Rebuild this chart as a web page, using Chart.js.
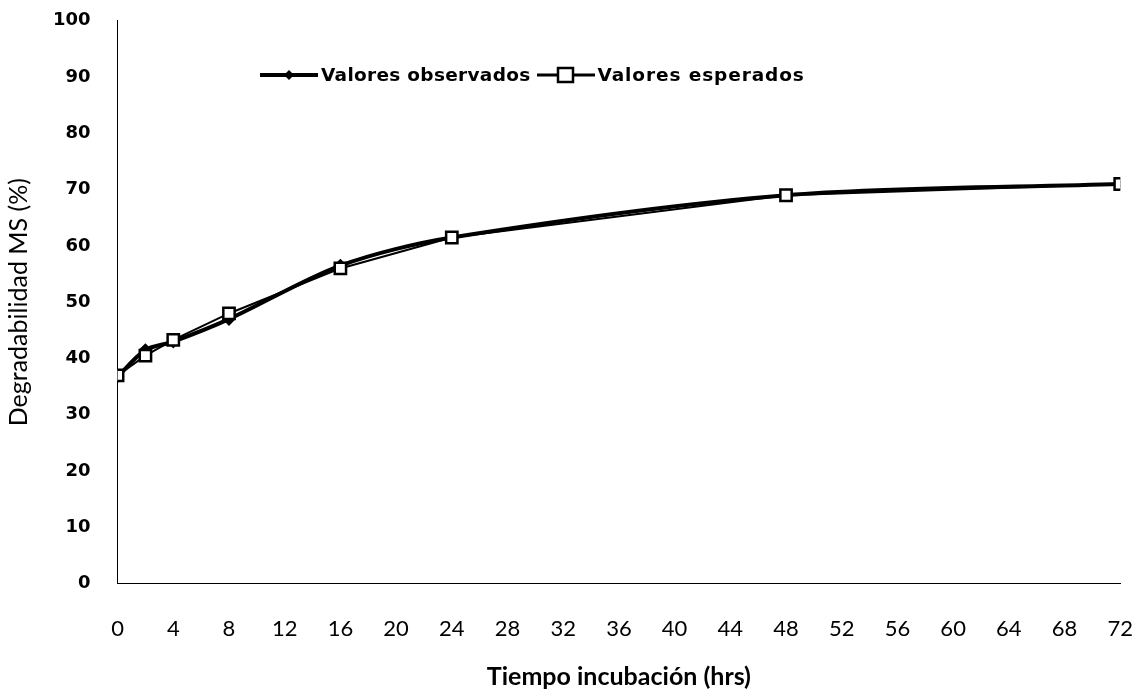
<!DOCTYPE html>
<html>
<head>
<meta charset="utf-8">
<script src="https://cdn.jsdelivr.net/npm/chart.js@4"></script>
<style>
  html, body { margin: 0; padding: 0; background: #fff; overflow: hidden; }
  .wrap { position: relative; width: 1140px; height: 690px; overflow: hidden; }
  #chart { position: absolute; left: 0; top: -9px; }
  .legend {
    position: absolute; left: 258px; top: 64px;
    font-family: 'DejaVu Sans', sans-serif; font-weight: bold; font-size: 18.5px;
    color: #000; display: flex; align-items: center; white-space: nowrap;
    letter-spacing: 0.3px;
  }
  .legend svg { margin-right: 1px; }
  .legend span { margin-right: 4px; }
  .legend span.esp { letter-spacing: 0.9px; }
</style>
</head>
<body>
<div class="wrap">
  <canvas id="chart" width="1157" height="701"></canvas>
  <div class="legend">
    <svg width="62" height="16"><line x1="2" y1="8" x2="60" y2="8" stroke="#000" stroke-width="4"/><path d="M31 3 L36 8 L31 13 L26 8 Z" fill="#000"/></svg>
    <span>Valores observados</span>
    <svg width="62" height="18"><line x1="2" y1="9" x2="60" y2="9" stroke="#000" stroke-width="3"/><rect x="23" y="2" width="15" height="14" fill="#fff" stroke="#000" stroke-width="2.5"/></svg>
    <span class="esp">Valores esperados</span>
  </div>
</div>
<script>
// Tiempo de incubación (hrs)
const hours = [0, 2, 4, 8, 16, 24, 48, 72];
const observados = [36.8, 41.5, 43, 47, 56.5, 61.5, 69, 71];
const esperados = [37, 40.5, 43.3, 48, 56, 61.5, 69, 71];

const toPoints = (vals) => hours.map((h, i) => ({ x: h, y: vals[i] }));

const ctx = document.getElementById('chart').getContext('2d');
new Chart(ctx, {
  type: 'line',
  data: {
    datasets: [
      {
        label: 'Valores observados',
        data: toPoints(observados),
        borderColor: '#000',
        backgroundColor: '#000',
        borderWidth: 4,
        pointStyle: 'rectRot',
        pointRadius: 4,
        tension: 0.3,
        order: 1
      },
      {
        label: 'Valores esperados',
        data: toPoints(esperados),
        borderColor: '#000',
        backgroundColor: '#fff',
        borderWidth: 2,
        pointStyle: 'rect',
        pointRadius: 8,
        pointBorderWidth: 2.5,
        tension: 0,
        order: 0
      }
    ]
  },
  options: {
    responsive: false,
    animation: false,
    layout: { padding: { top: 0, right: 0, bottom: 0, left: 4 } },
    scales: {
      x: {
        type: 'linear',
        min: 0,
        max: 72,
        grid: { display: false },
        border: { display: true, color: '#000', width: 1 },
        ticks: {
          stepSize: 4,
          color: '#000',
          padding: 24,
          font: { family: 'Lato', size: 22 }
        },
        title: {
          display: true,
          text: 'Tiempo incubación (hrs)',
          color: '#000',
          padding: { top: -4, bottom: 0 },
          font: { family: 'Lato', size: 25, weight: 'bold' }
        }
      },
      y: {
        min: 0,
        max: 100,
        grid: { display: false },
        border: { display: true, color: '#000', width: 1 },
        ticks: {
          stepSize: 10,
          color: '#000',
          padding: 19,
          font: { family: 'DejaVu Sans', size: 18, weight: 'bold' }
        },
        title: {
          display: true,
          text: 'Degradabilidad MS (%)',
          color: '#000',
          padding: { top: 0, bottom: 0 },
          font: { family: 'Lato', size: 25 }
        }
      }
    },
    plugins: {
      legend: { display: false },
      tooltip: { enabled: false }
    }
  }
});
</script>
</body>
</html>
